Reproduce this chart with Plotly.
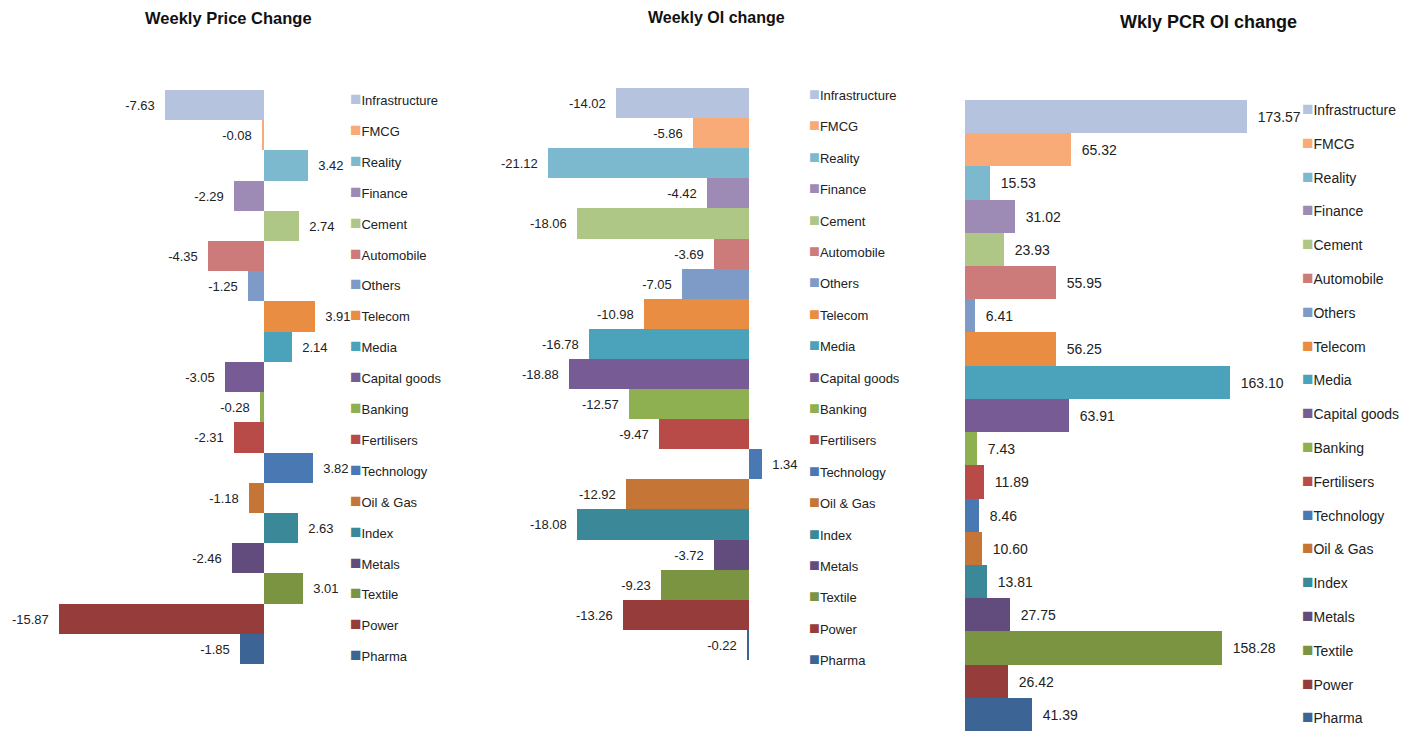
import plotly.graph_objects as go

categories = ["Infrastructure", "FMCG", "Reality", "Finance", "Cement", "Automobile",
              "Others", "Telecom", "Media", "Capital goods", "Banking", "Fertilisers",
              "Technology", "Oil & Gas", "Index", "Metals", "Textile", "Power", "Pharma"]
colors = ["#B6C3DE", "#F8AA77", "#7CB9CF", "#9D8AB5", "#AEC686", "#CC7B7A",
          "#7E9BC8", "#E88D41", "#4BA3BB", "#775B94", "#8FB050", "#B84A48",
          "#4978B2", "#C57535", "#3A8898", "#624C7D", "#7B9442", "#963C3B", "#3C6495"]

price_change = [-7.63, -0.08, 3.42, -2.29, 2.74, -4.35, -1.25, 3.91, 2.14, -3.05,
                -0.28, -2.31, 3.82, -1.18, 2.63, -2.46, 3.01, -15.87, -1.85]
oi_change = [-14.02, -5.86, -21.12, -4.42, -18.06, -3.69, -7.05, -10.98, -16.78, -18.88,
             -12.57, -9.47, 1.34, -12.92, -18.08, -3.72, -9.23, -13.26, -0.22]
pcr_change = [173.57, 65.32, 15.53, 31.02, 23.93, 55.95, 6.41, 56.25, 163.10, 63.91,
              7.43, 11.89, 8.46, 10.60, 13.81, 27.75, 158.28, 26.42, 41.39]

titles = ["Weekly Price Change", "Weekly OI change", "Wkly PCR OI change"]

W, H = 1421, 731
FONT = "Liberation Sans, Arial, sans-serif"
NB = "\u00a0\u00a0"

fig = go.Figure()

panels = [
    (price_change, "x", "y", "legend", 13, 19),
    (oi_change, "x2", "y2", "legend2", 13, 18),
    (pcr_change, "x3", "y3", "legend3", 14, 19),
]

for p, (vals, xa, ya, lg, fs, sq) in enumerate(panels):
    for cat, col, v in zip(categories, colors, vals):
        tmpl = ("%{x:.2f}" + NB) if v < 0 else (NB + "%{x:.2f}")
        fig.add_trace(go.Bar(
            x=[v], y=[cat], orientation="h", name=cat,
            marker=dict(color=col, line=dict(width=0)),
            texttemplate=tmpl, textposition="outside",
            textfont=dict(family=FONT, size=fs, color="#222222"),
            cliponaxis=False,
            xaxis=xa, yaxis=ya, showlegend=False, hoverinfo="x+y",
        ))
    # legend entries: coloured square glyph right next to the category name
    for cat, col in zip(categories, colors):
        fig.add_trace(go.Scatter(
            x=[None], y=[None], mode="markers",
            marker=dict(color="rgba(0,0,0,0)", size=1),
            name=f'<span style="color:{col};font-size:{sq}px">\u25A0</span>{cat}',
            xaxis=xa, yaxis=ya, legend=lg, legendgroup=f"p{p}_{cat}",
            showlegend=True, hoverinfo="skip",
        ))

def px_x(a, b):
    return [a / W, b / W]

def px_y(top, bottom):
    return [max(0, 1 - bottom / H), 1 - top / H]

ax_common = dict(showgrid=False, zeroline=False, showticklabels=False, showline=False,
                 ticks="")
cat_axis = dict(showgrid=False, zeroline=False, showticklabels=False, showline=False,
                ticks="", type="category", categoryorder="array", categoryarray=categories,
                range=[18.5, -0.5])

legend_font = lambda s: dict(family=FONT, size=s, color="#222222")

fig.update_layout(
    width=W, height=H,
    margin=dict(l=0, r=0, t=0, b=0, autoexpand=False),
    paper_bgcolor="white", plot_bgcolor="white",
    barmode="overlay", bargap=0,
    font=dict(family=FONT, color="#222222"),
    xaxis=dict(domain=px_x(10, 330), range=[(10 - 264) / 12.92, (330 - 264) / 12.92], **ax_common),
    yaxis=dict(domain=px_y(90, 664), anchor="x", **cat_axis),
    xaxis2=dict(domain=px_x(500, 780), range=[(500 - 749) / 9.52, (780 - 749) / 9.52], anchor="y2", **ax_common),
    yaxis2=dict(domain=px_y(88, 660), anchor="x2", **cat_axis),
    xaxis3=dict(domain=px_x(965, 1300), range=[0, (1300 - 965) / 1.623], anchor="y3", **ax_common),
    yaxis3=dict(domain=px_y(100, 731), anchor="x3", **cat_axis),
    legend=dict(x=310 / W, xanchor="left", y=1 - 85 / H, yanchor="top",
                font=legend_font(13), tracegroupgap=11, traceorder="grouped",
                itemclick=False, bgcolor="rgba(0,0,0,0)"),
    legend2=dict(x=769 / W, xanchor="left", y=1 - 80 / H, yanchor="top",
                 font=legend_font(13), tracegroupgap=11.5, traceorder="grouped",
                 itemclick=False, bgcolor="rgba(0,0,0,0)"),
    legend3=dict(x=1262 / W, xanchor="left", y=1 - 94 / H, yanchor="top",
                 font=legend_font(14), tracegroupgap=12.6, traceorder="grouped",
                 itemclick=False, bgcolor="rgba(0,0,0,0)"),
    showlegend=True,
)

title_pos = [(228, 18, 16.5), (716, 17, 16), (1208, 22, 18)]
for t, (cx, cy, fs) in zip(titles, title_pos):
    fig.add_annotation(text=f"<b>{t}</b>", x=cx / W, y=1 - cy / H, xref="paper", yref="paper",
                       xanchor="center", yanchor="middle", showarrow=False,
                       font=dict(family=FONT, size=fs, color="#111111"))

fig.write_html("out.html")
